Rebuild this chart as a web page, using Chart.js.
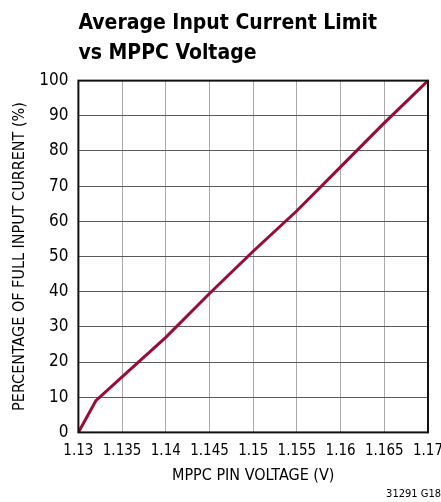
<!DOCTYPE html>
<html>
<head>
<meta charset="utf-8">
<script src="https://cdn.jsdelivr.net/npm/chart.js@4.4.1/dist/chart.umd.min.js"></script>
<style>
html,body{margin:0;padding:0;background:#fff;}
#wrap{position:relative;width:441px;height:502px;}
</style>
</head>
<body>
<div id="wrap"><canvas id="c" width="441" height="502"></canvas></div>
<script>
const mppcVoltage = [1.13, 1.132, 1.135, 1.14, 1.145, 1.15, 1.155, 1.16, 1.165, 1.17];
const currentPct  = [0, 9, 15.8, 27, 39.5, 51.5, 63, 75.5, 88, 100];
const xTickLabels = ['1.13','1.135','1.14','1.145','1.15','1.155','1.16','1.165','1.17'];
const yTickLabels = ['0','10','20','30','40','50','60','70','80','90','100'];

const FONT = "'Liberation Sans Narrow', 'DejaVu Sans Condensed', 'Arial Narrow', sans-serif";

const frame = {
  id: 'frame',
  afterDatasetsDraw(chart) {
    const a = chart.chartArea, ctx = chart.ctx;
    ctx.save();
    ctx.strokeStyle = '#111';
    ctx.lineWidth = 2;
    ctx.strokeRect(a.left, a.top, a.right - a.left, a.bottom - a.top);
    ctx.restore();
  }
};

new Chart(document.getElementById('c'), {
  type: 'line',
  data: {
    datasets: [{
      data: mppcVoltage.map((x, i) => ({x: x, y: currentPct[i]})),
      borderColor: '#9a0c36',
      borderWidth: 3,
      pointRadius: 0,
      tension: 0,
      fill: false
    }]
  },
  options: {
    responsive: false,
    animation: false,
    layout: {padding: {left: 10, right: 0, top: 0, bottom: 1}},
    plugins: {
      legend: {display: false},
      tooltip: {enabled: false},
      title: {
        display: true,
        text: ['Average Input Current Limit', 'vs MPPC Voltage'],
        align: 'start',
        fullSize: false,
        color: '#000',
        font: {family: FONT, size: 21, weight: 'bold', lineHeight: 1.42},
        padding: {top: 9, bottom: 12}
      },
      subtitle: {
        display: true,
        position: 'bottom',
        align: 'end',
        text: '31291 G18',
        color: '#000',
        font: {family: FONT, size: 11},
        padding: {top: 2, bottom: 0}
      }
    },
    scales: {
      x: {
        type: 'linear',
        min: 1.13, max: 1.17,
        border: {display: false},
        grid: {color: '#aaaaaa', lineWidth: 1, drawTicks: false},
        afterFit: (s) => { s.paddingRight = 13; },
        ticks: {
          stepSize: 0.005, autoSkip: false, maxRotation: 0, minRotation: 0,
          color: '#000', padding: 10,
          font: {family: FONT, size: 15},
          callback: (v, i) => xTickLabels[i]
        },
        title: {display: true, text: 'MPPC PIN VOLTAGE (V)', color: '#000',
                font: {family: FONT, size: 16, lineHeight: 0.65}, padding: {top: 0, bottom: 5}}
      },
      y: {
        min: 0, max: 100,
        border: {display: false},
        grid: {color: '#5a5a5a', lineWidth: 1, drawTicks: false},
        ticks: {
          stepSize: 10, autoSkip: false, color: '#000', padding: 10,
          font: {family: FONT, size: 17},
          callback: (v, i) => yTickLabels[i]
        },
        title: {display: true, text: 'PERCENTAGE OF FULL INPUT CURRENT (%)', color: '#000',
                font: {family: FONT, size: 16}, padding: {top: 0, bottom: 0}}
      }
    }
  },
  plugins: [frame]
});
</script>
</body>
</html>
